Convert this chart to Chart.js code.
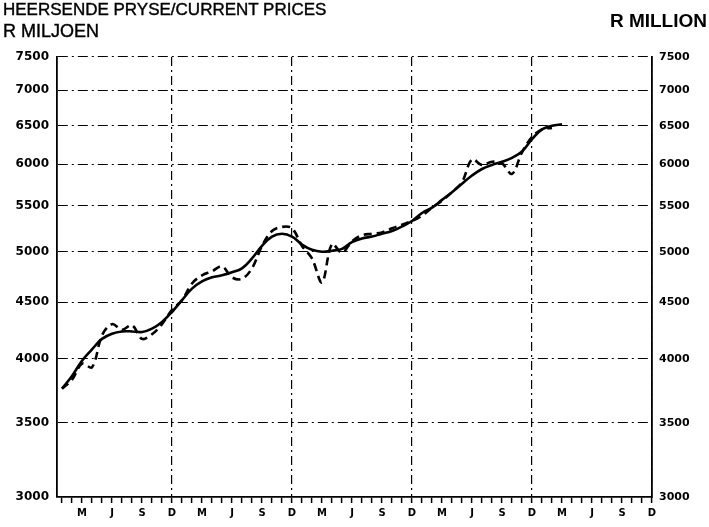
<!DOCTYPE html>
<html>
<head>
<meta charset="utf-8">
<script src="https://cdn.jsdelivr.net/npm/chart.js@4/dist/chart.umd.min.js"></script>
<style>
    body { margin: 0; background: #fff; }
    .wrap { position: relative; width: 709px; height: 527px; overflow: hidden; }
    .txt { position: absolute; font-family: "Liberation Sans", Arial, sans-serif; color: #000; line-height: 1; white-space: nowrap; -webkit-text-stroke: 0.4px #000; }
</style>
</head>
<body>
<div class="wrap">
    <canvas id="pricesChart" width="709" height="527"></canvas>
    <div class="txt" style="left:3px; top:1px; font-size:17px;">HEERSENDE PRYSE/CURRENT PRICES</div>
    <div class="txt" style="left:3px; top:22px; font-size:18px;">R MILJOEN</div>
    <div class="txt" style="right:2px; top:11px; font-size:19px; font-weight:bold; -webkit-text-stroke:0;">R MILLION</div>
</div>
<script>
// month letters, one per month (Jan..Dec), 5 years on the axis
const monthLetters = ['J', 'F', 'M', 'A', 'M', 'J', 'J', 'A', 'S', 'O', 'N', 'D'];
const monthCount = 60;

// monthly figures (dashed line), R million
const monthlyValues = [
    3760, 3830, 3960, 3930, 4200, 4300, 4250, 4290, 4170, 4210, 4300, 4430,
    4520, 4680, 4760, 4800, 4850, 4740, 4725, 4830, 5060, 5220, 5265, 5250,
    5060, 4930, 4690, 5080, 4990, 5110, 5175, 5190, 5205, 5250, 5290, 5330,
    5390, 5480, 5560, 5660, 5780, 6060, 5990, 6030, 6010, 5880, 6150, 6350,
    6450, 6470
];

// smoothed trend (solid line)
const trendValues = [
    3760, 3860, 3985, 4080, 4170, 4215, 4235, 4235, 4230, 4260, 4320, 4410,
    4520, 4630, 4700, 4740, 4760, 4790, 4830, 4930, 5060, 5160, 5190, 5160,
    5075, 5020, 5000, 5010, 5030, 5100, 5140, 5160, 5190, 5220, 5270, 5330,
    5420, 5480, 5570, 5660, 5760, 5860, 5940, 5990, 6030, 6080, 6160, 6320,
    6450, 6500, 6520
];

const yTicks = [3000, 3500, 4000, 4500, 5000, 5500, 6000, 6500, 7000, 7500];

const toPoints = arr => arr.map((v, i) => ({ x: i, y: v }));
const monthTicks = scale => {
    scale.ticks = [];
    for (let i = 0; i < monthCount; i++) scale.ticks.push({ value: i });
};
const valueTicks = scale => { scale.ticks = yTicks.map(v => ({ value: v })); };

const ctx = document.getElementById("pricesChart").getContext("2d");

new Chart(ctx, {
    type: 'line',
    data: {
        datasets: [
            {
                label: 'Monthly',
                data: toPoints(monthlyValues),
                borderColor: '#000',
                borderWidth: 2.6,
                borderDash: [8, 5],
                tension: 0.35,
                pointRadius: 0,
                fill: false
            },
            {
                label: 'Trend',
                data: toPoints(trendValues),
                borderColor: '#000',
                borderWidth: 2.6,
                tension: 0.4,
                pointRadius: 0,
                fill: false
            }
        ]
    },
    options: {
        responsive: false,
        animation: false,
        devicePixelRatio: 1,
        layout: { padding: { top: 57, left: 0, right: 0, bottom: 0 } },
        plugins: {
            legend: { display: false },
            tooltip: { enabled: false }
        },
        scales: {
            x: {
                type: 'linear',
                min: -0.5,
                max: monthCount - 1,
                afterBuildTicks: monthTicks,
                afterFit: s => { s.height = 30; },
                ticks: {
                    autoSkip: false,
                    maxRotation: 0,
                    padding: 4,
                    color: '#000',
                    font: { family: 'DejaVu Sans', size: 10, weight: 'bold' },
                    callback: v => (v % 3 === 2 ? monthLetters[v % 12] : '')
                },
                grid: {
                    color: c => (c.index % 12 === 11 ? '#000' : 'rgba(0,0,0,0)'),
                    lineWidth: 1.2,
                    tickColor: '#000',
                    tickLength: 6,
                    tickWidth: 1.5
                },
                border: { display: true, color: '#000', width: 1.8, dash: [9, 4, 2, 4] }
            },
            y: {
                type: 'logarithmic',
                position: 'left',
                min: 3000,
                max: 7500,
                afterBuildTicks: valueTicks,
                afterFit: s => { s.width = 57; },
                ticks: {
                    padding: 8,
                    color: '#000',
                    font: { family: 'DejaVu Sans', size: 12, weight: 'bold' },
                    callback: v => String(v)
                },
                grid: { color: '#000', lineWidth: 1.1, drawTicks: false },
                border: { display: true, color: '#000', width: 1.8, dash: [10, 4, 2, 4] }
            },
            y2: {
                type: 'logarithmic',
                position: 'right',
                min: 3000,
                max: 7500,
                afterBuildTicks: valueTicks,
                afterFit: s => { s.width = 57; },
                ticks: {
                    padding: 7,
                    color: '#000',
                    font: { family: 'DejaVu Sans', size: 11, weight: 'bold' },
                    callback: v => String(v)
                },
                grid: { display: false, drawTicks: false },
                border: { display: true, color: '#000', width: 1.8 }
            }
        }
    }
});
</script>
</body>
</html>
